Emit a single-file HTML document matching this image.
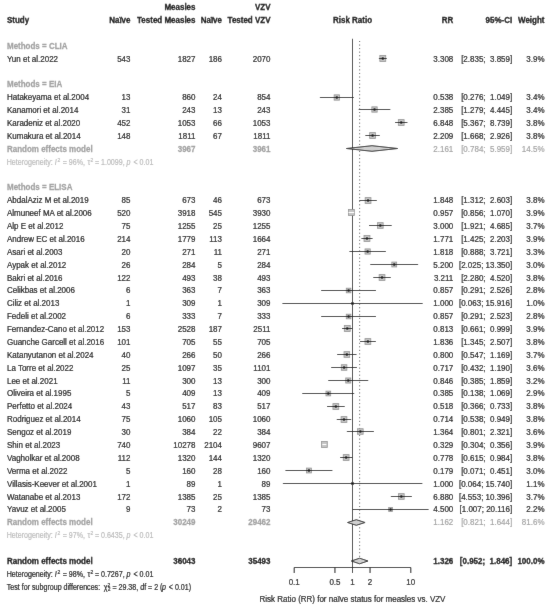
<!DOCTYPE html>
<html><head><meta charset="utf-8"><style>
html,body{margin:0;padding:0;background:#fff;}
svg{display:block;filter:grayscale(1);stroke-width:0.16px;font-family:"Liberation Sans",sans-serif;font-size:8.0px;}
text{white-space:pre;}
.ci{stroke:#111;stroke-width:1;}
.ciw{stroke:#fff;stroke-width:1;}
.sq{fill:#c4c4c4;stroke:#909090;stroke-width:0.8;}
.pt{fill:#111;}
.dm{fill:#d0d0d0;stroke:#111;stroke-width:0.9;}
.ax{stroke:#111;stroke-width:1;}
.ref{stroke:#1a1a1a;stroke-width:1;}
.dot{stroke:#444;stroke-width:1;stroke-dasharray:1 2.55;}
</style></head><body>
<svg width="550" height="607" viewBox="0 0 550 607" xml:space="preserve">
<defs><filter id="bl" x="0" y="0" width="550" height="607" filterUnits="userSpaceOnUse"><feConvolveMatrix order="3" kernelMatrix="0.01 0.05 0.01 0.05 0.76 0.05 0.01 0.05 0.01" edgeMode="duplicate" preserveAlpha="true"/></filter></defs>
<g filter="url(#bl)">
<rect width="550" height="607" fill="#fff"/>
<line x1="352.50" y1="38.80" x2="352.50" y2="567.50" class="ref"/>
<line x1="359.64" y1="41.00" x2="359.64" y2="558.20" class="dot"/>
<rect x="379.84" y="55.55" width="5.90" height="5.90" class="sq"/>
<line x1="378.88" y1="58.50" x2="386.69" y2="58.50" class="ci"/>
<circle cx="382.79" cy="58.50" r="1.3" class="pt"/>
<rect x="334.14" y="94.84" width="5.32" height="5.32" class="sq"/>
<line x1="319.90" y1="97.50" x2="353.71" y2="97.50" class="ci"/>
<circle cx="336.80" cy="97.50" r="1.3" class="pt"/>
<rect x="371.85" y="106.84" width="5.32" height="5.32" class="sq"/>
<line x1="358.73" y1="109.50" x2="390.27" y2="109.50" class="ci"/>
<circle cx="374.51" cy="109.50" r="1.3" class="pt"/>
<rect x="398.32" y="119.61" width="5.79" height="5.79" class="sq"/>
<line x1="395.04" y1="122.50" x2="407.39" y2="122.50" class="ci"/>
<circle cx="401.21" cy="122.50" r="1.3" class="pt"/>
<rect x="369.67" y="132.61" width="5.79" height="5.79" class="sq"/>
<line x1="365.45" y1="135.50" x2="379.68" y2="135.50" class="ci"/>
<circle cx="372.57" cy="135.50" r="1.3" class="pt"/>
<polygon points="346.34,148.50 372.01,145.70 397.69,148.50 372.01,151.30" class="dm"/>
<rect x="365.16" y="197.61" width="5.79" height="5.79" class="sq"/>
<line x1="359.38" y1="200.50" x2="376.72" y2="200.50" class="ci"/>
<circle cx="368.05" cy="200.50" r="1.3" class="pt"/>
<rect x="348.44" y="209.55" width="5.90" height="5.90" class="sq"/>
<line x1="348.56" y1="212.50" x2="354.21" y2="212.50" class="ciw"/>
<rect x="377.48" y="222.66" width="5.67" height="5.67" class="sq"/>
<line x1="369.03" y1="225.50" x2="391.60" y2="225.50" class="ci"/>
<circle cx="380.32" cy="225.50" r="1.3" class="pt"/>
<rect x="364.02" y="235.55" width="5.90" height="5.90" class="sq"/>
<line x1="361.47" y1="238.50" x2="372.50" y2="238.50" class="ci"/>
<circle cx="366.97" cy="238.50" r="1.3" class="pt"/>
<rect x="365.03" y="248.90" width="5.21" height="5.21" class="sq"/>
<line x1="349.49" y1="251.50" x2="385.77" y2="251.50" class="ci"/>
<circle cx="367.63" cy="251.50" r="1.3" class="pt"/>
<rect x="391.82" y="262.08" width="4.85" height="4.85" class="sq"/>
<line x1="370.36" y1="264.50" x2="418.12" y2="264.50" class="ci"/>
<circle cx="394.24" cy="264.50" r="1.3" class="pt"/>
<rect x="379.14" y="274.61" width="5.79" height="5.79" class="sq"/>
<line x1="373.37" y1="277.50" x2="390.69" y2="277.50" class="ci"/>
<circle cx="382.04" cy="277.50" r="1.3" class="pt"/>
<rect x="346.29" y="288.20" width="4.60" height="4.60" class="sq"/>
<line x1="321.24" y1="290.50" x2="375.96" y2="290.50" class="ci"/>
<circle cx="348.59" cy="290.50" r="1.3" class="pt"/>
<rect x="351.44" y="302.44" width="2.13" height="2.13" class="sq"/>
<line x1="282.50" y1="303.50" x2="422.57" y2="303.50" class="ci"/>
<circle cx="352.50" cy="303.50" r="1.3" class="pt"/>
<rect x="346.29" y="314.20" width="4.60" height="4.60" class="sq"/>
<line x1="321.24" y1="316.50" x2="375.93" y2="316.50" class="ci"/>
<circle cx="348.59" cy="316.50" r="1.3" class="pt"/>
<rect x="344.31" y="325.55" width="5.90" height="5.90" class="sq"/>
<line x1="342.02" y1="328.50" x2="352.47" y2="328.50" class="ci"/>
<circle cx="347.26" cy="328.50" r="1.3" class="pt"/>
<rect x="364.99" y="338.61" width="5.79" height="5.79" class="sq"/>
<line x1="360.00" y1="341.50" x2="375.77" y2="341.50" class="ci"/>
<circle cx="367.88" cy="341.50" r="1.3" class="pt"/>
<rect x="344.01" y="351.66" width="5.67" height="5.67" class="sq"/>
<line x1="337.22" y1="354.50" x2="356.45" y2="354.50" class="ci"/>
<circle cx="346.85" cy="354.50" r="1.3" class="pt"/>
<rect x="341.30" y="364.72" width="5.56" height="5.56" class="sq"/>
<line x1="331.25" y1="367.50" x2="356.90" y2="367.50" class="ci"/>
<circle cx="344.08" cy="367.50" r="1.3" class="pt"/>
<rect x="345.72" y="377.96" width="5.09" height="5.09" class="sq"/>
<line x1="328.33" y1="380.50" x2="368.20" y2="380.50" class="ci"/>
<circle cx="348.27" cy="380.50" r="1.3" class="pt"/>
<rect x="325.97" y="391.14" width="4.72" height="4.72" class="sq"/>
<line x1="302.35" y1="393.50" x2="354.19" y2="393.50" class="ci"/>
<circle cx="328.33" cy="393.50" r="1.3" class="pt"/>
<rect x="332.95" y="403.61" width="5.79" height="5.79" class="sq"/>
<line x1="327.05" y1="406.50" x2="344.64" y2="406.50" class="ci"/>
<circle cx="335.85" cy="406.50" r="1.3" class="pt"/>
<rect x="341.08" y="416.61" width="5.79" height="5.79" class="sq"/>
<line x1="336.80" y1="419.50" x2="351.17" y2="419.50" class="ci"/>
<circle cx="343.97" cy="419.50" r="1.3" class="pt"/>
<rect x="357.58" y="428.72" width="5.56" height="5.56" class="sq"/>
<line x1="346.88" y1="431.50" x2="373.82" y2="431.50" class="ci"/>
<circle cx="360.36" cy="431.50" r="1.3" class="pt"/>
<rect x="321.40" y="441.55" width="5.90" height="5.90" class="sq"/>
<line x1="322.35" y1="444.50" x2="326.35" y2="444.50" class="ciw"/>
<rect x="343.25" y="454.61" width="5.79" height="5.79" class="sq"/>
<line x1="340.19" y1="457.50" x2="352.09" y2="457.50" class="ci"/>
<circle cx="346.14" cy="457.50" r="1.3" class="pt"/>
<rect x="306.52" y="468.08" width="4.85" height="4.85" class="sq"/>
<line x1="285.53" y1="470.50" x2="332.34" y2="470.50" class="ci"/>
<circle cx="308.94" cy="470.50" r="1.3" class="pt"/>
<rect x="351.36" y="482.36" width="2.28" height="2.28" class="sq"/>
<line x1="282.90" y1="483.50" x2="422.29" y2="483.50" class="ci"/>
<circle cx="352.50" cy="483.50" r="1.3" class="pt"/>
<rect x="398.50" y="493.66" width="5.67" height="5.67" class="sq"/>
<line x1="390.88" y1="496.50" x2="411.78" y2="496.50" class="ci"/>
<circle cx="401.33" cy="496.50" r="1.3" class="pt"/>
<rect x="388.66" y="507.58" width="3.84" height="3.84" class="sq"/>
<line x1="352.68" y1="509.50" x2="428.50" y2="509.50" class="ci"/>
<circle cx="390.58" cy="509.50" r="1.3" class="pt"/>
<polygon points="347.51,522.50 356.30,519.70 365.09,522.50 356.30,525.30" class="dm"/>
<polygon points="351.25,561.00 359.64,558.20 368.02,561.00 359.64,563.80" class="dm"/>
<line x1="294.20" y1="567.50" x2="410.80" y2="567.50" class="ax"/>
<line x1="294.20" y1="567.50" x2="294.20" y2="573.00" class="ax"/>
<line x1="334.95" y1="567.50" x2="334.95" y2="573.00" class="ax"/>
<line x1="352.50" y1="567.50" x2="352.50" y2="573.00" class="ax"/>
<line x1="370.05" y1="567.50" x2="370.05" y2="573.00" class="ax"/>
<line x1="410.80" y1="567.50" x2="410.80" y2="573.00" class="ax"/>
<g transform="scale(1,1.17)" stroke="#000">
<text x="195.50" y="8.620" text-anchor="end" font-weight="bold" stroke-width="0.22">Measles</text>
<text x="270.50" y="8.620" text-anchor="end" font-weight="bold" stroke-width="0.22">VZV</text>
<text x="7.00" y="19.629" font-weight="bold" stroke-width="0.22">Study</text>
<text x="130.50" y="19.629" text-anchor="end" font-weight="bold" stroke-width="0.22">Na&#239;ve</text>
<text x="195.50" y="19.629" text-anchor="end" font-weight="bold" stroke-width="0.22">Tested Measles</text>
<text x="222.00" y="19.629" text-anchor="end" font-weight="bold" stroke-width="0.22">Na&#239;ve</text>
<text x="270.50" y="19.629" text-anchor="end" font-weight="bold" stroke-width="0.22">Tested VZV</text>
<text x="352.50" y="19.629" text-anchor="middle" font-weight="bold" stroke-width="0.22">Risk Ratio</text>
<text x="453.30" y="19.629" text-anchor="end" font-weight="bold" stroke-width="0.22">RR</text>
<text x="512.20" y="19.629" text-anchor="end" font-weight="bold" stroke-width="0.22">95%-CI</text>
<text x="544.50" y="19.629" text-anchor="end" font-weight="bold" stroke-width="0.22">Weight</text>
<text x="7.00" y="41.647" font-weight="bold" stroke-width="0.22" fill="#a0a0a0" stroke="#a0a0a0">Methods = CLIA</text>
<text x="7.00" y="52.656">Yun et al.2022</text>
<text x="130.50" y="52.656" text-anchor="end">543</text>
<text x="195.50" y="52.656" text-anchor="end">1827</text>
<text x="222.00" y="52.656" text-anchor="end">186</text>
<text x="270.50" y="52.656" text-anchor="end">2070</text>
<text x="453.30" y="52.656" text-anchor="end">3.308</text>
<text x="512.20" y="52.656" text-anchor="end">[2.835;  3.859]</text>
<text x="544.50" y="52.656" text-anchor="end">3.9%</text>
<text x="7.00" y="74.674" font-weight="bold" stroke-width="0.22" fill="#a0a0a0" stroke="#a0a0a0">Methods = EIA</text>
<text x="7.00" y="85.683">Hatakeyama et al.2004</text>
<text x="130.50" y="85.683" text-anchor="end">13</text>
<text x="195.50" y="85.683" text-anchor="end">860</text>
<text x="222.00" y="85.683" text-anchor="end">24</text>
<text x="270.50" y="85.683" text-anchor="end">854</text>
<text x="453.30" y="85.683" text-anchor="end">0.538</text>
<text x="512.20" y="85.683" text-anchor="end">[0.276;  1.049]</text>
<text x="544.50" y="85.683" text-anchor="end">3.4%</text>
<text x="7.00" y="96.692">Kanamori et al.2014</text>
<text x="130.50" y="96.692" text-anchor="end">31</text>
<text x="195.50" y="96.692" text-anchor="end">243</text>
<text x="222.00" y="96.692" text-anchor="end">13</text>
<text x="270.50" y="96.692" text-anchor="end">243</text>
<text x="453.30" y="96.692" text-anchor="end">2.385</text>
<text x="512.20" y="96.692" text-anchor="end">[1.279;  4.445]</text>
<text x="544.50" y="96.692" text-anchor="end">3.4%</text>
<text x="7.00" y="107.701">Karadeniz et al.2020</text>
<text x="130.50" y="107.701" text-anchor="end">452</text>
<text x="195.50" y="107.701" text-anchor="end">1053</text>
<text x="222.00" y="107.701" text-anchor="end">66</text>
<text x="270.50" y="107.701" text-anchor="end">1053</text>
<text x="453.30" y="107.701" text-anchor="end">6.848</text>
<text x="512.20" y="107.701" text-anchor="end">[5.367;  8.739]</text>
<text x="544.50" y="107.701" text-anchor="end">3.8%</text>
<text x="7.00" y="118.710">Kumakura et al.2014</text>
<text x="130.50" y="118.710" text-anchor="end">148</text>
<text x="195.50" y="118.710" text-anchor="end">1811</text>
<text x="222.00" y="118.710" text-anchor="end">67</text>
<text x="270.50" y="118.710" text-anchor="end">1811</text>
<text x="453.30" y="118.710" text-anchor="end">2.209</text>
<text x="512.20" y="118.710" text-anchor="end">[1.668;  2.926]</text>
<text x="544.50" y="118.710" text-anchor="end">3.8%</text>
<text x="7.00" y="129.719" font-weight="bold" stroke-width="0.22" fill="#a0a0a0" stroke="#a0a0a0">Random effects model</text>
<text x="195.50" y="129.719" text-anchor="end" font-weight="bold" stroke-width="0.22" fill="#a0a0a0" stroke="#a0a0a0">3967</text>
<text x="270.50" y="129.719" text-anchor="end" font-weight="bold" stroke-width="0.22" fill="#a0a0a0" stroke="#a0a0a0">3961</text>
<text x="453.30" y="129.719" text-anchor="end" fill="#a0a0a0" stroke="#a0a0a0">2.161</text>
<text x="512.20" y="129.719" text-anchor="end" fill="#a0a0a0" stroke="#a0a0a0">[0.784;  5.959]</text>
<text x="544.50" y="129.719" text-anchor="end" fill="#a0a0a0" stroke="#a0a0a0">14.5%</text>
<text font-size="7.1" fill="#bababa" stroke="#bababa"><tspan x="6.70" y="140.728">Heterogeneity:</tspan><tspan x="54.70" y="140.728" font-style="italic">I</tspan><tspan x="57.50" y="138.079" font-size="5.0">2</tspan><tspan x="62.70" y="140.728">= 96%,</tspan><tspan x="87.60" y="140.728">&#964;</tspan><tspan x="90.40" y="138.079" font-size="5.0">2</tspan><tspan x="94.90" y="140.728">= 1.0099,</tspan><tspan x="126.60" y="140.728" font-style="italic">p</tspan><tspan x="133.50" y="140.728">&lt; 0.01</tspan></text>
<text x="7.00" y="162.746" font-weight="bold" stroke-width="0.22" fill="#a0a0a0" stroke="#a0a0a0">Methods = ELISA</text>
<text x="7.00" y="173.756">AbdalAziz M et al.2019</text>
<text x="130.50" y="173.756" text-anchor="end">85</text>
<text x="195.50" y="173.756" text-anchor="end">673</text>
<text x="222.00" y="173.756" text-anchor="end">46</text>
<text x="270.50" y="173.756" text-anchor="end">673</text>
<text x="453.30" y="173.756" text-anchor="end">1.848</text>
<text x="512.20" y="173.756" text-anchor="end">[1.312;  2.603]</text>
<text x="544.50" y="173.756" text-anchor="end">3.8%</text>
<text x="7.00" y="184.765">Almuneef MA et al.2006</text>
<text x="130.50" y="184.765" text-anchor="end">520</text>
<text x="195.50" y="184.765" text-anchor="end">3918</text>
<text x="222.00" y="184.765" text-anchor="end">545</text>
<text x="270.50" y="184.765" text-anchor="end">3930</text>
<text x="453.30" y="184.765" text-anchor="end">0.957</text>
<text x="512.20" y="184.765" text-anchor="end">[0.856;  1.070]</text>
<text x="544.50" y="184.765" text-anchor="end">3.9%</text>
<text x="7.00" y="195.774">Alp E et al.2012</text>
<text x="130.50" y="195.774" text-anchor="end">75</text>
<text x="195.50" y="195.774" text-anchor="end">1255</text>
<text x="222.00" y="195.774" text-anchor="end">25</text>
<text x="270.50" y="195.774" text-anchor="end">1255</text>
<text x="453.30" y="195.774" text-anchor="end">3.000</text>
<text x="512.20" y="195.774" text-anchor="end">[1.921;  4.685]</text>
<text x="544.50" y="195.774" text-anchor="end">3.7%</text>
<text x="7.00" y="206.783">Andrew EC et al.2016</text>
<text x="130.50" y="206.783" text-anchor="end">214</text>
<text x="195.50" y="206.783" text-anchor="end">1779</text>
<text x="222.00" y="206.783" text-anchor="end">113</text>
<text x="270.50" y="206.783" text-anchor="end">1664</text>
<text x="453.30" y="206.783" text-anchor="end">1.771</text>
<text x="512.20" y="206.783" text-anchor="end">[1.425;  2.203]</text>
<text x="544.50" y="206.783" text-anchor="end">3.9%</text>
<text x="7.00" y="217.792">Asari et al.2003</text>
<text x="130.50" y="217.792" text-anchor="end">20</text>
<text x="195.50" y="217.792" text-anchor="end">271</text>
<text x="222.00" y="217.792" text-anchor="end">11</text>
<text x="270.50" y="217.792" text-anchor="end">271</text>
<text x="453.30" y="217.792" text-anchor="end">1.818</text>
<text x="512.20" y="217.792" text-anchor="end">[0.888;  3.721]</text>
<text x="544.50" y="217.792" text-anchor="end">3.3%</text>
<text x="7.00" y="228.801">Aypak et al.2012</text>
<text x="130.50" y="228.801" text-anchor="end">26</text>
<text x="195.50" y="228.801" text-anchor="end">284</text>
<text x="222.00" y="228.801" text-anchor="end">5</text>
<text x="270.50" y="228.801" text-anchor="end">284</text>
<text x="453.30" y="228.801" text-anchor="end">5.200</text>
<text x="512.20" y="228.801" text-anchor="end">[2.025; 13.350]</text>
<text x="544.50" y="228.801" text-anchor="end">3.0%</text>
<text x="7.00" y="239.810">Bakri et al.2016</text>
<text x="130.50" y="239.810" text-anchor="end">122</text>
<text x="195.50" y="239.810" text-anchor="end">493</text>
<text x="222.00" y="239.810" text-anchor="end">38</text>
<text x="270.50" y="239.810" text-anchor="end">493</text>
<text x="453.30" y="239.810" text-anchor="end">3.211</text>
<text x="512.20" y="239.810" text-anchor="end">[2.280;  4.520]</text>
<text x="544.50" y="239.810" text-anchor="end">3.8%</text>
<text x="7.00" y="250.819">Celikbas et al.2006</text>
<text x="130.50" y="250.819" text-anchor="end">6</text>
<text x="195.50" y="250.819" text-anchor="end">363</text>
<text x="222.00" y="250.819" text-anchor="end">7</text>
<text x="270.50" y="250.819" text-anchor="end">363</text>
<text x="453.30" y="250.819" text-anchor="end">0.857</text>
<text x="512.20" y="250.819" text-anchor="end">[0.291;  2.526]</text>
<text x="544.50" y="250.819" text-anchor="end">2.8%</text>
<text x="7.00" y="261.828">Ciliz et al.2013</text>
<text x="130.50" y="261.828" text-anchor="end">1</text>
<text x="195.50" y="261.828" text-anchor="end">309</text>
<text x="222.00" y="261.828" text-anchor="end">1</text>
<text x="270.50" y="261.828" text-anchor="end">309</text>
<text x="453.30" y="261.828" text-anchor="end">1.000</text>
<text x="512.20" y="261.828" text-anchor="end">[0.063; 15.916]</text>
<text x="544.50" y="261.828" text-anchor="end">1.0%</text>
<text x="7.00" y="272.837">Fedeli et al.2002</text>
<text x="130.50" y="272.837" text-anchor="end">6</text>
<text x="195.50" y="272.837" text-anchor="end">333</text>
<text x="222.00" y="272.837" text-anchor="end">7</text>
<text x="270.50" y="272.837" text-anchor="end">333</text>
<text x="453.30" y="272.837" text-anchor="end">0.857</text>
<text x="512.20" y="272.837" text-anchor="end">[0.291;  2.523]</text>
<text x="544.50" y="272.837" text-anchor="end">2.8%</text>
<text x="7.00" y="283.846">Fernandez-Cano et al.2012</text>
<text x="130.50" y="283.846" text-anchor="end">153</text>
<text x="195.50" y="283.846" text-anchor="end">2528</text>
<text x="222.00" y="283.846" text-anchor="end">187</text>
<text x="270.50" y="283.846" text-anchor="end">2511</text>
<text x="453.30" y="283.846" text-anchor="end">0.813</text>
<text x="512.20" y="283.846" text-anchor="end">[0.661;  0.999]</text>
<text x="544.50" y="283.846" text-anchor="end">3.9%</text>
<text x="7.00" y="294.855">Guanche Garcell et al.2016</text>
<text x="130.50" y="294.855" text-anchor="end">101</text>
<text x="195.50" y="294.855" text-anchor="end">705</text>
<text x="222.00" y="294.855" text-anchor="end">55</text>
<text x="270.50" y="294.855" text-anchor="end">705</text>
<text x="453.30" y="294.855" text-anchor="end">1.836</text>
<text x="512.20" y="294.855" text-anchor="end">[1.345;  2.507]</text>
<text x="544.50" y="294.855" text-anchor="end">3.8%</text>
<text x="7.00" y="305.864">Katanyutanon et al.2024</text>
<text x="130.50" y="305.864" text-anchor="end">40</text>
<text x="195.50" y="305.864" text-anchor="end">266</text>
<text x="222.00" y="305.864" text-anchor="end">50</text>
<text x="270.50" y="305.864" text-anchor="end">266</text>
<text x="453.30" y="305.864" text-anchor="end">0.800</text>
<text x="512.20" y="305.864" text-anchor="end">[0.547;  1.169]</text>
<text x="544.50" y="305.864" text-anchor="end">3.7%</text>
<text x="7.00" y="316.873">La Torre et al.2022</text>
<text x="130.50" y="316.873" text-anchor="end">25</text>
<text x="195.50" y="316.873" text-anchor="end">1097</text>
<text x="222.00" y="316.873" text-anchor="end">35</text>
<text x="270.50" y="316.873" text-anchor="end">1101</text>
<text x="453.30" y="316.873" text-anchor="end">0.717</text>
<text x="512.20" y="316.873" text-anchor="end">[0.432;  1.190]</text>
<text x="544.50" y="316.873" text-anchor="end">3.6%</text>
<text x="7.00" y="327.882">Lee et al.2021</text>
<text x="130.50" y="327.882" text-anchor="end">11</text>
<text x="195.50" y="327.882" text-anchor="end">300</text>
<text x="222.00" y="327.882" text-anchor="end">13</text>
<text x="270.50" y="327.882" text-anchor="end">300</text>
<text x="453.30" y="327.882" text-anchor="end">0.846</text>
<text x="512.20" y="327.882" text-anchor="end">[0.385;  1.859]</text>
<text x="544.50" y="327.882" text-anchor="end">3.2%</text>
<text x="7.00" y="338.891">Oliveira et al.1995</text>
<text x="130.50" y="338.891" text-anchor="end">5</text>
<text x="195.50" y="338.891" text-anchor="end">409</text>
<text x="222.00" y="338.891" text-anchor="end">13</text>
<text x="270.50" y="338.891" text-anchor="end">409</text>
<text x="453.30" y="338.891" text-anchor="end">0.385</text>
<text x="512.20" y="338.891" text-anchor="end">[0.138;  1.069]</text>
<text x="544.50" y="338.891" text-anchor="end">2.9%</text>
<text x="7.00" y="349.901">Perfetto et al.2024</text>
<text x="130.50" y="349.901" text-anchor="end">43</text>
<text x="195.50" y="349.901" text-anchor="end">517</text>
<text x="222.00" y="349.901" text-anchor="end">83</text>
<text x="270.50" y="349.901" text-anchor="end">517</text>
<text x="453.30" y="349.901" text-anchor="end">0.518</text>
<text x="512.20" y="349.901" text-anchor="end">[0.366;  0.733]</text>
<text x="544.50" y="349.901" text-anchor="end">3.8%</text>
<text x="7.00" y="360.910">Rodriguez et al.2014</text>
<text x="130.50" y="360.910" text-anchor="end">75</text>
<text x="195.50" y="360.910" text-anchor="end">1060</text>
<text x="222.00" y="360.910" text-anchor="end">105</text>
<text x="270.50" y="360.910" text-anchor="end">1060</text>
<text x="453.30" y="360.910" text-anchor="end">0.714</text>
<text x="512.20" y="360.910" text-anchor="end">[0.538;  0.949]</text>
<text x="544.50" y="360.910" text-anchor="end">3.8%</text>
<text x="7.00" y="371.919">Sengoz et al.2019</text>
<text x="130.50" y="371.919" text-anchor="end">30</text>
<text x="195.50" y="371.919" text-anchor="end">384</text>
<text x="222.00" y="371.919" text-anchor="end">22</text>
<text x="270.50" y="371.919" text-anchor="end">384</text>
<text x="453.30" y="371.919" text-anchor="end">1.364</text>
<text x="512.20" y="371.919" text-anchor="end">[0.801;  2.321]</text>
<text x="544.50" y="371.919" text-anchor="end">3.6%</text>
<text x="7.00" y="382.928">Shin et al.2023</text>
<text x="130.50" y="382.928" text-anchor="end">740</text>
<text x="195.50" y="382.928" text-anchor="end">10278</text>
<text x="222.00" y="382.928" text-anchor="end">2104</text>
<text x="270.50" y="382.928" text-anchor="end">9607</text>
<text x="453.30" y="382.928" text-anchor="end">0.329</text>
<text x="512.20" y="382.928" text-anchor="end">[0.304;  0.356]</text>
<text x="544.50" y="382.928" text-anchor="end">3.9%</text>
<text x="7.00" y="393.937">Vagholkar et al.2008</text>
<text x="130.50" y="393.937" text-anchor="end">112</text>
<text x="195.50" y="393.937" text-anchor="end">1320</text>
<text x="222.00" y="393.937" text-anchor="end">144</text>
<text x="270.50" y="393.937" text-anchor="end">1320</text>
<text x="453.30" y="393.937" text-anchor="end">0.778</text>
<text x="512.20" y="393.937" text-anchor="end">[0.615;  0.984]</text>
<text x="544.50" y="393.937" text-anchor="end">3.8%</text>
<text x="7.00" y="404.946">Verma et al.2022</text>
<text x="130.50" y="404.946" text-anchor="end">5</text>
<text x="195.50" y="404.946" text-anchor="end">160</text>
<text x="222.00" y="404.946" text-anchor="end">28</text>
<text x="270.50" y="404.946" text-anchor="end">160</text>
<text x="453.30" y="404.946" text-anchor="end">0.179</text>
<text x="512.20" y="404.946" text-anchor="end">[0.071;  0.451]</text>
<text x="544.50" y="404.946" text-anchor="end">3.0%</text>
<text x="7.00" y="415.955">Villasis-Keever et al.2001</text>
<text x="130.50" y="415.955" text-anchor="end">1</text>
<text x="195.50" y="415.955" text-anchor="end">89</text>
<text x="222.00" y="415.955" text-anchor="end">1</text>
<text x="270.50" y="415.955" text-anchor="end">89</text>
<text x="453.30" y="415.955" text-anchor="end">1.000</text>
<text x="512.20" y="415.955" text-anchor="end">[0.064; 15.740]</text>
<text x="544.50" y="415.955" text-anchor="end">1.1%</text>
<text x="7.00" y="426.964">Watanabe et al.2013</text>
<text x="130.50" y="426.964" text-anchor="end">172</text>
<text x="195.50" y="426.964" text-anchor="end">1385</text>
<text x="222.00" y="426.964" text-anchor="end">25</text>
<text x="270.50" y="426.964" text-anchor="end">1385</text>
<text x="453.30" y="426.964" text-anchor="end">6.880</text>
<text x="512.20" y="426.964" text-anchor="end">[4.553; 10.396]</text>
<text x="544.50" y="426.964" text-anchor="end">3.7%</text>
<text x="7.00" y="437.973">Yavuz et al.2005</text>
<text x="130.50" y="437.973" text-anchor="end">9</text>
<text x="195.50" y="437.973" text-anchor="end">73</text>
<text x="222.00" y="437.973" text-anchor="end">2</text>
<text x="270.50" y="437.973" text-anchor="end">73</text>
<text x="453.30" y="437.973" text-anchor="end">4.500</text>
<text x="512.20" y="437.973" text-anchor="end">[1.007; 20.116]</text>
<text x="544.50" y="437.973" text-anchor="end">2.2%</text>
<text x="7.00" y="448.982" font-weight="bold" stroke-width="0.22" fill="#a0a0a0" stroke="#a0a0a0">Random effects model</text>
<text x="195.50" y="448.982" text-anchor="end" font-weight="bold" stroke-width="0.22" fill="#a0a0a0" stroke="#a0a0a0">30249</text>
<text x="270.50" y="448.982" text-anchor="end" font-weight="bold" stroke-width="0.22" fill="#a0a0a0" stroke="#a0a0a0">29462</text>
<text x="453.30" y="448.982" text-anchor="end" fill="#a0a0a0" stroke="#a0a0a0">1.162</text>
<text x="512.20" y="448.982" text-anchor="end" fill="#a0a0a0" stroke="#a0a0a0">[0.821;  1.644]</text>
<text x="544.50" y="448.982" text-anchor="end" fill="#a0a0a0" stroke="#a0a0a0">81.6%</text>
<text font-size="7.1" fill="#bababa" stroke="#bababa"><tspan x="6.70" y="459.991">Heterogeneity:</tspan><tspan x="54.70" y="459.991" font-style="italic">I</tspan><tspan x="57.50" y="457.342" font-size="5.0">2</tspan><tspan x="62.70" y="459.991">= 97%,</tspan><tspan x="87.60" y="459.991">&#964;</tspan><tspan x="90.40" y="457.342" font-size="5.0">2</tspan><tspan x="94.90" y="459.991">= 0.6435,</tspan><tspan x="126.60" y="459.991" font-style="italic">p</tspan><tspan x="133.50" y="459.991">&lt; 0.01</tspan></text>
<text x="7.00" y="482.009" font-weight="bold" stroke-width="0.22">Random effects model</text>
<text x="195.50" y="482.009" text-anchor="end" font-weight="bold" stroke-width="0.22">36043</text>
<text x="270.50" y="482.009" text-anchor="end" font-weight="bold" stroke-width="0.22">35493</text>
<text x="453.30" y="482.009" text-anchor="end" font-weight="bold" stroke-width="0.22">1.326</text>
<text x="512.20" y="482.009" text-anchor="end" font-weight="bold" stroke-width="0.22">[0.952;  1.846]</text>
<text x="544.50" y="482.009" text-anchor="end" font-weight="bold" stroke-width="0.22">100.0%</text>
<text font-size="7.1" fill="#000" stroke="#000"><tspan x="6.70" y="493.018">Heterogeneity:</tspan><tspan x="54.70" y="493.018" font-style="italic">I</tspan><tspan x="57.50" y="490.369" font-size="5.0">2</tspan><tspan x="62.70" y="493.018">= 98%,</tspan><tspan x="87.60" y="493.018">&#964;</tspan><tspan x="90.40" y="490.369" font-size="5.0">2</tspan><tspan x="94.90" y="493.018">= 0.7267,</tspan><tspan x="126.60" y="493.018" font-style="italic">p</tspan><tspan x="133.50" y="493.018">&lt; 0.01</tspan></text>
<text font-size="7.1" fill="#000" stroke="#000"><tspan x="6.80" y="504.027">Test for subgroup differences:</tspan><tspan x="103.70" y="504.027">&#967;</tspan><tspan x="107.60" y="501.378" font-size="5.0">2</tspan><tspan x="107.70" y="505.395" font-size="5.0">2</tspan><tspan x="112.40" y="504.027">= 29.38, df = 2 (</tspan><tspan x="162.00" y="504.027" font-style="italic">p</tspan><tspan x="168.80" y="504.027">&lt; 0.01)</tspan></text>
<text x="294.20" y="500.427" text-anchor="middle">0.1</text>
<text x="334.95" y="500.427" text-anchor="middle">0.5</text>
<text x="352.50" y="500.427" text-anchor="middle">1</text>
<text x="370.05" y="500.427" text-anchor="middle">2</text>
<text x="410.80" y="500.427" text-anchor="middle">10</text>
<text x="352.50" y="514.701" text-anchor="middle">Risk Ratio (RR) for na&#239;ve status for measles vs. VZV</text>
</g>
</g>
</svg>
</body></html>
